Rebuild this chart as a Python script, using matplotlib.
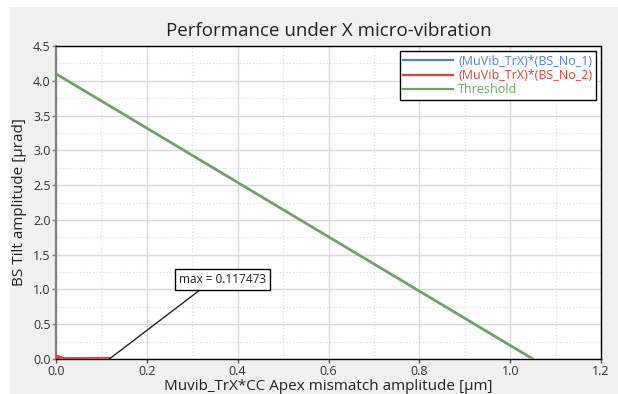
import matplotlib
matplotlib.use("Agg")
import matplotlib.pyplot as plt
from matplotlib.patches import Rectangle
from matplotlib.ticker import MultipleLocator, FormatStrFormatter

plt.rcParams['font.family'] = ['Open Sans', 'DejaVu Sans']

# Series data
bs1_x = [0.0, 0.002, 0.004, 0.006, 0.008, 0.010, 0.015, 0.03, 0.05, 0.07, 0.09, 0.11, 0.117473]
bs1_y = [0.02, 0.035, 0.015, 0.03, 0.01, 0.02, 0.008, 0.006, 0.007, 0.008, 0.009, 0.01, 0.01]
bs2_x = [0.0, 0.002, 0.004, 0.006, 0.008, 0.010, 0.015, 0.03, 0.05, 0.07, 0.09, 0.11, 0.117473]
bs2_y = [0.02, 0.04, 0.015, 0.035, 0.01, 0.02, 0.008, 0.006, 0.007, 0.008, 0.009, 0.01, 0.01]
thr_x = [0.0, 1.05]
thr_y = [4.1, 0.0]
max_x = 0.117473

fig = plt.figure(figsize=(6.18, 3.94), dpi=100)
fig.patch.set_facecolor('#f0f0f0')
# white strips along the left and top edges
fig.add_artist(Rectangle((0, 0), 10/618, 1, transform=fig.transFigure,
                         facecolor='white', edgecolor='none', zorder=-10))
fig.add_artist(Rectangle((0, 1 - 7/394), 1, 7/394, transform=fig.transFigure,
                         facecolor='white', edgecolor='none', zorder=-10))

ax = fig.add_axes([56/618, 1 - 359/394, 545/618, 313/394])
ax.set_facecolor('white')

ax.plot(bs1_x, bs1_y, color='#4f7fe0', lw=2, label='(MuVib_TrX)*(BS_No_1)', zorder=3)
ax.plot(bs2_x, bs2_y, color='#d9463b', lw=2, label='(MuVib_TrX)*(BS_No_2)', zorder=4)
ax.plot(thr_x, thr_y, color='#6aa564', lw=2, label='Threshold', zorder=3)

ax.set_xlim(0, 1.2)
ax.set_ylim(0, 4.5)
ax.xaxis.set_major_locator(MultipleLocator(0.2))
ax.xaxis.set_minor_locator(MultipleLocator(0.1))
ax.yaxis.set_major_locator(MultipleLocator(0.5))
ax.yaxis.set_minor_locator(MultipleLocator(0.25))
ax.xaxis.set_major_formatter(FormatStrFormatter('%.1f'))
ax.yaxis.set_major_formatter(FormatStrFormatter('%.1f'))

ax.grid(which='major', color='#d8d8d8', lw=1, ls='-', zorder=0)
ax.grid(which='minor', color='#d8d8d8', lw=0.8, ls=(0, (1, 2)), zorder=0)
ax.set_axisbelow(True)

for s in ['top', 'right', 'bottom']:
    ax.spines[s].set_color('black')
    ax.spines[s].set_linewidth(1)
ax.spines['left'].set_color('#808080')
ax.spines['left'].set_linewidth(1.6)

ax.tick_params(axis='y', which='major', length=3, width=1, color='#808080',
               labelsize=9, labelcolor='#333333', pad=1)
ax.tick_params(axis='x', which='major', length=3, width=1, color='#555555',
               labelsize=9, labelcolor='#333333', pad=1)
ax.tick_params(which='minor', length=0)

ax.set_title('Performance under X micro-vibration', fontsize=13.5,
             color='#222222', pad=7)
ax.set_xlabel('Muvib_TrX*CC Apex mismatch amplitude [µm]', fontsize=11,
              color='#222222', labelpad=1)
ax.set_ylabel('BS Tilt amplitude [µrad]', fontsize=11, color='#222222',
              labelpad=4)

leg = ax.legend(loc='upper right', fontsize=9, frameon=True, fancybox=False,
                edgecolor='black', framealpha=1, borderaxespad=0.4,
                handlelength=4.0, handletextpad=0.4, labelspacing=0.1,
                borderpad=0.3)
leg.get_frame().set_linewidth(1)
for txt, line in zip(leg.get_texts(), leg.get_lines()):
    txt.set_color(line.get_color())
    line.set_linewidth(1.6)

ax.annotate(f'max = {max_x}', xy=(max_x, 0.0), xytext=(0.366, 1.14),
            ha='center', va='center', fontsize=8.5, color='#222222',
            bbox=dict(boxstyle='square,pad=0.35', fc='white', ec='black', lw=1),
            arrowprops=dict(arrowstyle='-', color='#222222', lw=1,
                            shrinkA=0, shrinkB=0, relpos=(0.3, 0.0)),
            zorder=6)

fig.savefig('out.png', dpi=100, facecolor=fig.get_facecolor())
